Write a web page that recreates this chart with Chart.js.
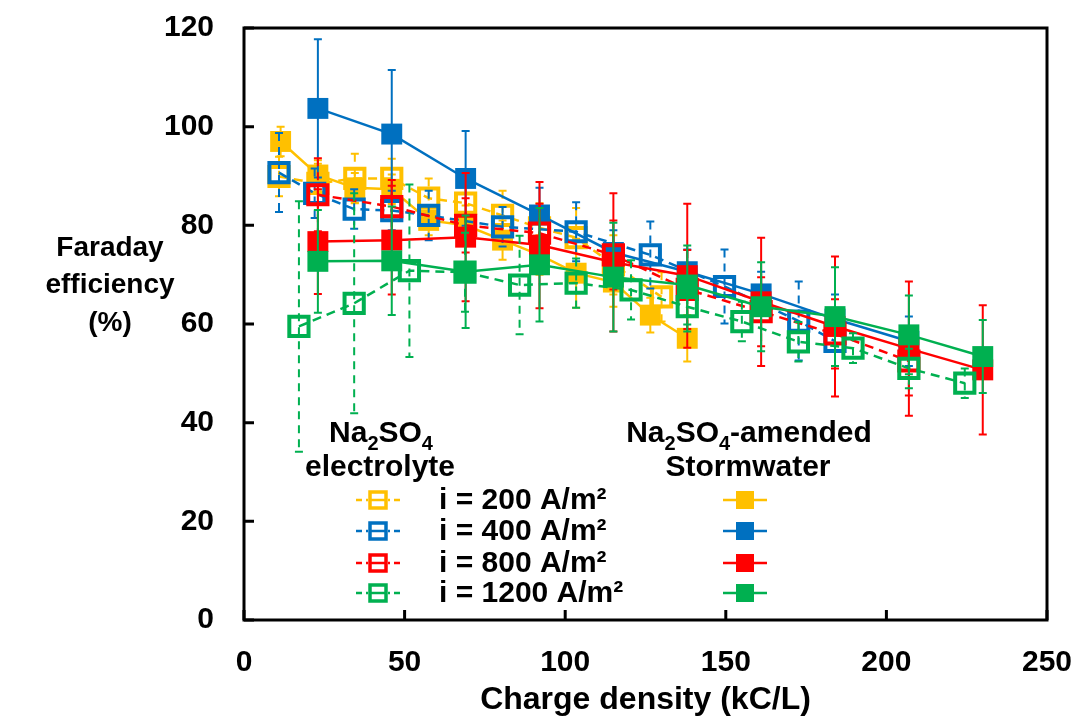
<!DOCTYPE html>
<html>
<head>
<meta charset="utf-8">
<title>Faraday efficiency vs charge density</title>
<script src="https://cdn.jsdelivr.net/npm/chart.js@4.4.1/dist/chart.umd.min.js"></script>
<style>
  html, body { margin: 0; padding: 0; background: #fff; }
  #fe-chart { display: block; }
</style>
</head>
<body>
<canvas id="fe-chart" width="1077" height="721"></canvas>
<script>
// charge density (kC/L), Faraday efficiency (%), +/- error (%)
const xTicks = [0, 50, 100, 150, 200, 250];
const yTicks = [0, 20, 40, 60, 80, 100, 120];
const currentLabels = ['i = 200 A/m²', 'i = 400 A/m²', 'i = 800 A/m²', 'i = 1200 A/m²'];
const colors = ['#FFC000', '#0070C0', '#FF0000', '#00B050'];

// Na2SO4 electrolyte (open markers, dashed)
const elec200X = [10.9, 23, 34.5, 46, 57.5, 69, 80.5, 92, 103.4, 115, 130];
const elec200Y = [89.9, 88.5, 89.5, 89.5, 85.5, 84.5, 82, 79.5, 77.5, 72, 65.5];
const elec200Err = [4, 4, 5, 4, 4, 4, 5, 5, 6, 6, 5];

const elec400X = [10.9, 22, 34.3, 46, 57.5, 80.5, 103.4, 126.5, 149.6, 172.7, 184];
const elec400Y = [90.7, 86.5, 83.3, 83, 82, 79.7, 78.7, 74, 67.6, 60.6, 56.5];
const elec400Err = [8, 5, 4, 4, 5, 4, 6, 6.8, 7.5, 8, 5];

const elec800X = [23, 46, 69, 92, 115, 138, 161, 184, 207];
const elec800Y = [86.2, 83.8, 80, 78.4, 74, 67, 62.5, 58, 52.5];
const elec800Err = [7.4, 5.4, 5.5, 6, 7, 8, 7, 7, 7];

const elec1200X = [17.1, 34.3, 51.5, 68.8, 85.8, 103.4, 120.5, 138, 155, 172.6, 189.6, 207, 224.4];
const elec1200Y = [59.5, 64.2, 70.8, 70.5, 67.9, 68.3, 66.9, 63.5, 60.5, 56.4, 55.1, 51, 48];
const elec1200Err = [25.4, 22.3, 17.5, 8, 10, 5, 6, 5, 4, 4, 3, 4, 3];

// Na2SO4-amended stormwater (filled markers, solid)
const storm200X = [11.4, 23, 34.5, 46, 57.5, 69, 80.5, 92, 103.4, 115, 126.5, 138];
const storm200Y = [97, 90.2, 87.6, 87.3, 81, 80, 77, 74, 70.3, 68.5, 61.8, 57.1];
const storm200Err = [3, 3, 3, 3, 3, 4, 4, 4, 7, 5, 3.5, 4.7];

const storm400X = [23, 46, 69, 92, 115, 138, 161, 184, 207];
const storm400Y = [103.7, 98.5, 89.5, 82.1, 74.5, 70.6, 66.1, 61, 56.5];
const storm400Err = [14, 13, 9.6, 5.5, 4.5, 4.5, 4.5, 5, 5];

const storm800X = [23, 46, 69, 92, 115, 138, 161, 184, 207, 230];
const storm800Y = [76.7, 77, 77.6, 76, 72.5, 69.8, 64.5, 59.5, 55, 50.7];
const storm800Err = [10.6, 11, 13, 12.8, 14, 14.6, 13, 14.2, 13.6, 13.1];

const storm1200X = [23, 46, 69, 92, 115, 138, 161, 184, 207, 230];
const storm1200Y = [72.7, 72.8, 70.6, 72, 69.5, 67.9, 63.5, 61.5, 57.8, 53.4];
const storm1200Err = [10.4, 11, 11.4, 11.5, 11, 8, 9, 10, 8, 7.4];

const FONT = '"Liberation Sans", Arial, sans-serif';

function pts(xs, ys) {
  return xs.map((x, i) => ({ x: x, y: ys[i] }));
}

function electrolyte(color, xs, ys, errs, order) {
  return {
    data: pts(xs, ys),
    errors: errs,
    dashed: true,
    showLine: true,
    borderColor: color,
    borderWidth: 2.5,
    borderDash: [9, 6],
    pointStyle: 'rect',
    pointRadius: 13.6,
    pointHoverRadius: 13.6,
    pointBorderWidth: 4,
    pointBorderColor: color,
    pointBackgroundColor: 'rgba(0,0,0,0)',
    order: order
  };
}

function stormwater(color, xs, ys, errs, order) {
  return {
    data: pts(xs, ys),
    errors: errs,
    dashed: false,
    showLine: true,
    borderColor: color,
    borderWidth: 2.5,
    pointStyle: 'rect',
    pointRadius: 14.8,
    pointHoverRadius: 14.8,
    pointBorderWidth: 0,
    pointBackgroundColor: color,
    order: order
  };
}

// vertical error bars, drawn just under each series' own markers
const errorBars = {
  id: 'errorBars',
  beforeDatasetDraw(chart, args) {
    const ds = chart.data.datasets[args.index];
    if (!ds.errors) return;
    const ctx = chart.ctx;
    const ys = chart.scales.y;
    ctx.save();
    ctx.strokeStyle = ds.borderColor;
    ctx.lineWidth = 2;
    args.meta.data.forEach((pt, i) => {
      const v = ds.data[i].y;
      const e = ds.errors[i];
      const top = ys.getPixelForValue(v + e);
      const bot = ys.getPixelForValue(v - e);
      ctx.setLineDash(ds.dashed ? [8, 6] : []);
      ctx.beginPath();
      ctx.moveTo(pt.x, top);
      ctx.lineTo(pt.x, bot);
      ctx.stroke();
      ctx.setLineDash([]);
      ctx.beginPath();
      ctx.moveTo(pt.x - 4, top); ctx.lineTo(pt.x + 4, top);
      ctx.moveTo(pt.x - 4, bot); ctx.lineTo(pt.x + 4, bot);
      ctx.stroke();
    });
    ctx.restore();
  }
};

// text with subscript digits, e.g. Na2SO4
function drawSubText(ctx, parts, cx, y, size) {
  const main = 'bold ' + size + 'px ' + FONT;
  const sub = 'bold ' + Math.round(size * 0.66) + 'px ' + FONT;
  let w = 0;
  parts.forEach(p => { ctx.font = p[1] ? sub : main; w += ctx.measureText(p[0]).width; });
  let x = cx - w / 2;
  ctx.textAlign = 'left';
  parts.forEach(p => {
    ctx.font = p[1] ? sub : main;
    ctx.fillText(p[0], x, p[1] ? y + size * 0.25 : y);
    x += ctx.measureText(p[0]).width;
  });
}

function legendMarker(ctx, cx, cy, color, open) {
  ctx.save();
  ctx.strokeStyle = color;
  ctx.fillStyle = color;
  ctx.lineWidth = 2.5;
  if (open) {
    ctx.setLineDash([6, 4]);
    ctx.beginPath();
    ctx.moveTo(cx - 22, cy); ctx.lineTo(cx - 10, cy);
    ctx.moveTo(cx + 22, cy); ctx.lineTo(cx + 10, cy);
    ctx.stroke();
    ctx.setLineDash([]);
    ctx.beginPath();
    ctx.moveTo(cx - 8, cy); ctx.lineTo(cx + 8, cy);
    ctx.stroke();
    ctx.lineWidth = 3.5;
    ctx.strokeRect(cx - 8, cy - 8, 16, 16);
  } else {
    ctx.beginPath();
    ctx.moveTo(cx - 22, cy); ctx.lineTo(cx + 22, cy);
    ctx.stroke();
    ctx.fillRect(cx - 9, cy - 9, 18, 18);
  }
  ctx.restore();
}

const decorations = {
  id: 'decorations',
  afterDraw(chart) {
    const ctx = chart.ctx;
    const a = chart.chartArea;
    const xs = chart.scales.x;
    const ys = chart.scales.y;
    ctx.save();

    // plot frame with inward ticks
    ctx.strokeStyle = '#000';
    ctx.lineWidth = 3;
    ctx.strokeRect(a.left, a.top, a.right - a.left, a.bottom - a.top);
    ctx.beginPath();
    yTicks.forEach(v => {
      const p = ys.getPixelForValue(v);
      ctx.moveTo(a.left, p); ctx.lineTo(a.left + 10, p);
    });
    xTicks.forEach(v => {
      const p = xs.getPixelForValue(v);
      ctx.moveTo(p, a.bottom); ctx.lineTo(p, a.bottom - 10);
    });
    ctx.stroke();

    ctx.fillStyle = '#000';
    ctx.textBaseline = 'middle';

    // y axis title
    ctx.font = 'bold 28px ' + FONT;
    ctx.textAlign = 'center';
    ['Faraday', 'efficiency', '(%)'].forEach((t, i) => ctx.fillText(t, 110, 248 + i * 37.5));

    // group headings
    ctx.textBaseline = 'alphabetic';
    drawSubText(ctx, [['Na', 0], ['2', 1], ['SO', 0], ['4', 1]], 381, 442, 30);
    ctx.font = 'bold 30px ' + FONT;
    ctx.textAlign = 'center';
    ctx.fillText('electrolyte', 380, 476);
    drawSubText(ctx, [['Na', 0], ['2', 1], ['SO', 0], ['4', 1], ['-amended', 0]], 749, 442, 30);
    ctx.font = 'bold 30px ' + FONT;
    ctx.textAlign = 'center';
    ctx.fillText('Stormwater', 748, 476);

    // legend rows
    const rowY = [500, 531, 563, 593];
    ctx.textBaseline = 'middle';
    currentLabels.forEach((label, i) => {
      legendMarker(ctx, 378, rowY[i], colors[i], true);
      legendMarker(ctx, 745, rowY[i], colors[i], false);
      ctx.fillStyle = '#000';
      ctx.font = 'bold 30px ' + FONT;
      ctx.textAlign = 'left';
      ctx.fillText(label, 439, rowY[i] + 1);
    });
    ctx.restore();
  }
};

const datasets = [
  stormwater(colors[0], storm200X, storm200Y, storm200Err, 8),
  electrolyte(colors[0], elec200X, elec200Y, elec200Err, 7),
  electrolyte(colors[1], elec400X, elec400Y, elec400Err, 6),
  stormwater(colors[1], storm400X, storm400Y, storm400Err, 5),
  electrolyte(colors[2], elec800X, elec800Y, elec800Err, 4),
  stormwater(colors[2], storm800X, storm800Y, storm800Err, 3),
  electrolyte(colors[3], elec1200X, elec1200Y, elec1200Err, 2),
  stormwater(colors[3], storm1200X, storm1200Y, storm1200Err, 1)
];

new Chart(document.getElementById('fe-chart'), {
  type: 'scatter',
  data: { datasets: datasets },
  options: {
    responsive: false,
    animation: false,
    events: [],
    layout: { padding: { left: 0, top: 28, right: 30, bottom: 0 } },
    plugins: { legend: { display: false }, tooltip: { enabled: false } },
    scales: {
      x: {
        type: 'linear',
        min: 0, max: 250,
        afterFit: s => { s.height = 101; s.paddingLeft = 0; s.paddingRight = 0; },
        afterBuildTicks: s => { s.ticks = xTicks.map(v => ({ value: v })); },
        grid: { display: false, drawTicks: false },
        border: { display: false },
        ticks: { color: '#000', padding: 25, font: { family: FONT, size: 30, weight: 'bold' } },
        title: {
          display: true,
          text: 'Charge density (kC/L)',
          color: '#000',
          padding: { top: 0, bottom: 2 },
          font: { family: FONT, size: 32, weight: 'bold' }
        }
      },
      y: {
        type: 'linear',
        min: 0, max: 120,
        afterFit: s => { s.width = 244; s.paddingTop = 0; s.paddingBottom = 0; },
        afterBuildTicks: s => { s.ticks = yTicks.map(v => ({ value: v })); },
        grid: { display: false, drawTicks: false },
        border: { display: false },
        ticks: { color: '#000', padding: 30, font: { family: FONT, size: 30, weight: 'bold' } }
      }
    }
  },
  plugins: [errorBars, decorations]
});
</script>
</body>
</html>
